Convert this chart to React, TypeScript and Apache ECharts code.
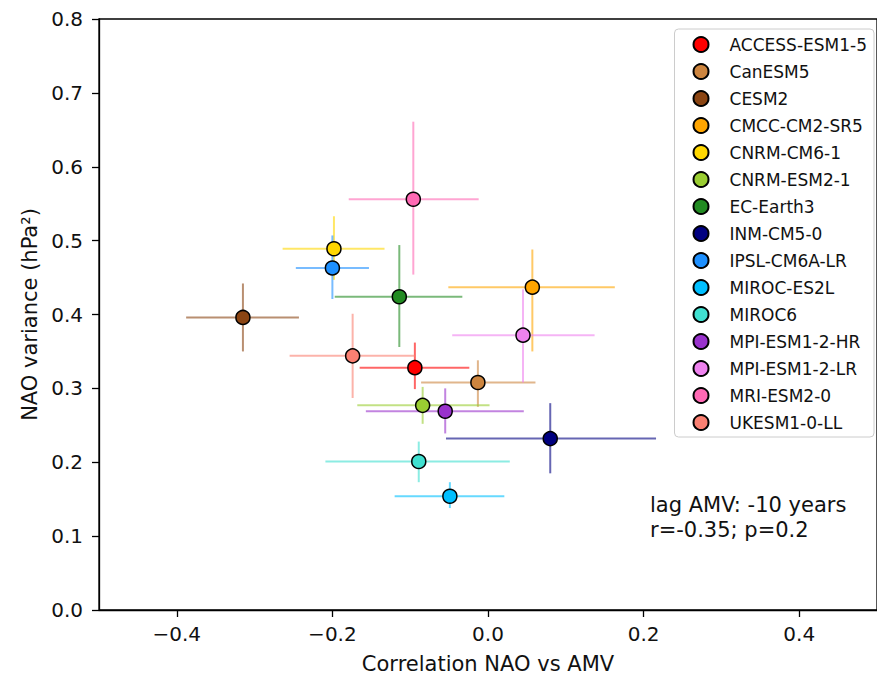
import React, { useEffect, useRef } from "react";
import * as echarts from "echarts";

const models = [
  "ACCESS-ESM1-5", "CanESM5", "CESM2", "CMCC-CM2-SR5", "CNRM-CM6-1",
  "CNRM-ESM2-1", "EC-Earth3", "INM-CM5-0", "IPSL-CM6A-LR", "MIROC-ES2L",
  "MIROC6", "MPI-ESM1-2-HR", "MPI-ESM1-2-LR", "MRI-ESM2-0", "UKESM1-0-LL",
];
const colors = [
  "#ff0000", "#cd853f", "#8b4513", "#ffa500", "#ffd700",
  "#9acd32", "#228b22", "#000080", "#1e90ff", "#00bfff",
  "#40e0d0", "#9932cc", "#ee82ee", "#ff69b4", "#fa8072",
];
const corrValues = [-0.094, -0.013, -0.315, 0.057, -0.198, -0.084, -0.114, 0.080, -0.200, -0.049, -0.089, -0.055, 0.045, -0.096, -0.174];
const varValues = [0.328, 0.308, 0.396, 0.437, 0.489, 0.277, 0.424, 0.232, 0.463, 0.154, 0.201, 0.269, 0.372, 0.556, 0.344];
const corrLow = [-0.165, -0.086, -0.388, -0.051, -0.264, -0.168, -0.197, -0.054, -0.247, -0.120, -0.209, -0.157, -0.046, -0.179, -0.255];
const corrHigh = [-0.024, 0.061, -0.243, 0.163, -0.133, 0.002, -0.033, 0.216, -0.153, 0.021, 0.028, 0.046, 0.137, -0.012, -0.093];
const varLow = [0.299, 0.275, 0.350, 0.350, 0.447, 0.252, 0.356, 0.185, 0.421, 0.138, 0.173, 0.239, 0.308, 0.454, 0.287];
const varHigh = [0.362, 0.338, 0.442, 0.488, 0.533, 0.302, 0.494, 0.280, 0.507, 0.173, 0.228, 0.300, 0.434, 0.661, 0.401];
const xTicks = [-0.4, -0.2, 0.0, 0.2, 0.4];
const annotationLines = ["lag AMV: -10 years", "r=-0.35; p=0.2"];

const FONT = "DejaVu Sans";

export default function App() {
  const ref = useRef<HTMLDivElement>(null);
  useEffect(() => {
    if (!ref.current) return;
    const chart = echarts.init(ref.current, null, { renderer: "svg" });

    const errorSeries = models.map((m, i) => ({
      type: "custom",
      name: m + " error",
      z: 1,
      silent: true,
      data: [[corrValues[i], varValues[i], corrLow[i], corrHigh[i], varLow[i], varHigh[i]]],
      renderItem: (params: any, api: any) => {
        const x = api.value(0), y = api.value(1);
        const xl = api.coord([api.value(2), y]);
        const xh = api.coord([api.value(3), y]);
        const yl = api.coord([x, api.value(4)]);
        const yh = api.coord([x, api.value(5)]);
        const st = { stroke: colors[i], lineWidth: 2, opacity: 0.6 };
        return {
          type: "group",
          children: [
            { type: "line", shape: { x1: xl[0], y1: xl[1], x2: xh[0], y2: xh[1] }, style: st },
            { type: "line", shape: { x1: yl[0], y1: yl[1], x2: yh[0], y2: yh[1] }, style: st },
          ],
        };
      },
    }));

    const pointSeries = models.map((m, i) => ({
      type: "scatter",
      name: m,
      z: 3,
      symbol: "circle",
      symbolSize: 14,
      itemStyle: { color: colors[i], borderColor: "#000", borderWidth: 1.5, opacity: 1 },
      data: [[corrValues[i], varValues[i]]],
    }));

    chart.setOption({
      animation: false,
      backgroundColor: "#fff",
      textStyle: { fontFamily: FONT },
      grid: {
        left: 99, top: 19, bottom: 68, right: -9,
        show: true, borderColor: "#000", borderWidth: 1.3, backgroundColor: "transparent",
      },
      xAxis: {
        type: "value",
        min: -0.5, max: 0.5,
        name: "Correlation NAO vs AMV",
        nameLocation: "middle",
        nameGap: 43,
        nameTextStyle: { fontSize: 21, color: "#111", fontFamily: FONT },
        axisLine: { show: true, onZero: false, lineStyle: { color: "#000", width: 1.3 } },
        axisTick: { show: true, length: 7, customValues: xTicks, lineStyle: { color: "#000", width: 1.3 } },
        axisLabel: {
          customValues: xTicks,
          fontSize: 20, color: "#111", fontFamily: FONT, margin: 14,
          formatter: (v: number) => (v < 0 ? "\u2212" : "") + Math.abs(v).toFixed(1),
        },
        splitLine: { show: false },
      },
      yAxis: {
        type: "value",
        min: 0, max: 0.8, interval: 0.1,
        name: "NAO variance (hPa\u00b2)",
        nameLocation: "middle",
        nameGap: 58,
        nameTextStyle: { fontSize: 21, color: "#111", fontFamily: FONT },
        axisLine: { show: true, onZero: false, lineStyle: { color: "#000", width: 1.3 } },
        axisTick: { show: true, length: 7, lineStyle: { color: "#000", width: 1.3 } },
        axisLabel: {
          fontSize: 20, color: "#111", fontFamily: FONT, margin: 16,
          formatter: (v: number) => v.toFixed(1),
        },
        splitLine: { show: false },
      },
      legend: {
        data: models,
        orient: "vertical",
        right: 3,
        top: 29,
        padding: [7, 7, 6, 18],
        itemWidth: 15,
        itemHeight: 15,
        itemGap: 10,
        backgroundColor: "rgba(255,255,255,0.85)",
        borderColor: "#cccccc",
        borderWidth: 1,
        borderRadius: 4,
        selectedMode: false,
        textStyle: { fontSize: 17, color: "#111", fontFamily: FONT, padding: [0, 0, 0, 16], lineHeight: 15 },
      },
      graphic: [
        {
          type: "text",
          left: 650,
          top: 492,
          style: {
            text: annotationLines.join("\n"),
            fontSize: 21,
            lineHeight: 25,
            fontFamily: FONT,
            fill: "#111",
          },
        },
      ],
      series: [...errorSeries, ...pointSeries],
    });
    return () => chart.dispose();
  }, []);
  return <div ref={ref} style={{ position: "fixed", left: 0, top: 0, width: 877, height: 679 }} />;
}
